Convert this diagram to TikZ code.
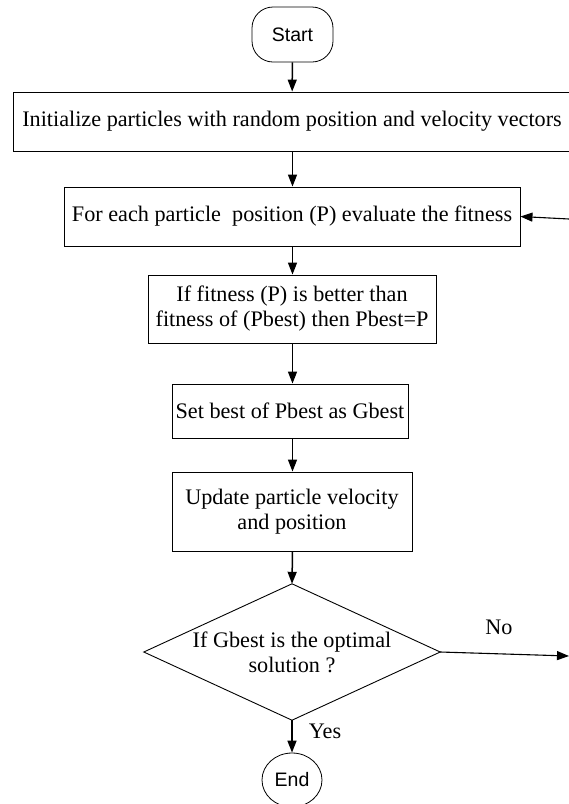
\documentclass[tikz,border=0pt]{standalone}
\usepackage{fontspec}
\setmainfont{Liberation Serif}
\newfontfamily\labsans{Liberation Sans}
\usetikzlibrary{arrows.meta,shapes.geometric}
\begin{document}
\begin{tikzpicture}[x=1pt,y=-1pt,
  font=\fontsize{22.2}{25}\selectfont,
  box/.style={draw,line width=0.9pt,inner sep=0pt,align=center},
  term/.style={draw,line width=0.8pt,inner sep=0pt,font=\labsans\fontsize{19.5}{22}\selectfont},
  arr/.style={line width=1.5pt,-{Triangle[length=12pt,width=9pt]}},
  lab/.style={inner sep=0pt}]
\clip (0,0) rectangle (569,804);
\fill[white] (0,0) rectangle (569,804);
\node[term,rounded corners=21pt,minimum width=81pt,minimum height=55pt] (start) at (292.5,34.5) {Start};
\node[box,minimum width=558pt,minimum height=59pt] (init) at (292,121.5) {Initialize particles with random position and velocity vectors};
\node[box,minimum width=456pt,minimum height=59pt] (fit) at (292,216.5) {For each particle~ position (P) evaluate the fitness};
\node[box,minimum width=288pt,minimum height=68pt] (pb) at (292,309) {If fitness (P) is better than\\fitness of (Pbest) then Pbest=P};
\node[box,minimum width=236pt,minimum height=54pt] (gb) at (290,411) {Set best of Pbest as Gbest};
\node[box,minimum width=240pt,minimum height=79pt] (up) at (292,511.5) {Update particle velocity\\and position};
\node[inner sep=0pt,minimum width=296pt,minimum height=136pt,align=center] (dec) at (292,652) {If Gbest is the optimal\\solution ?};
\draw[line width=0.9pt] (dec.north) -- (dec.east) -- (dec.south) -- (dec.west) -- cycle;
\node[term,ellipse,minimum width=60pt,minimum height=54pt] (end) at (292,780) {End};
\coordinate (fb) at (569,219);
\coordinate (noend) at (569,656);
\draw[arr] (start) -- (init);
\draw[arr] (init.south -| start) -- (fit.north -| start);
\draw[arr] (fit.south -| start) -- (pb.north -| start);
\draw[arr] (pb.south -| start) -- (gb.north -| start);
\draw[arr] (gb.south -| start) -- (up.north -| start);
\draw[arr] (up.south -| start) -- (dec.north);
\draw[arr] (dec.south) -- (end.north);
\draw[arr,line width=1.1pt] (fb) -- (fit.east);
\draw[arr,line width=1.1pt] (dec.east) -- (noend);
\node[lab] (no) at (499,627) {No};
\node[lab] (yes) at (325,731) {Yes};
\end{tikzpicture}
\end{document}
